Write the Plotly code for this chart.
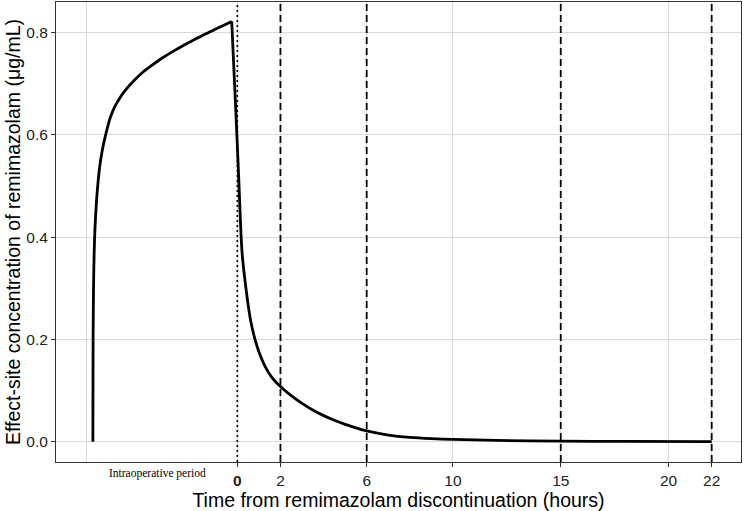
import plotly.graph_objects as go

# Effect-site concentration curve (hours relative to discontinuation, µg/mL)
# Infusion phase (rise) and post-discontinuation phase (decay) share the peak point.
rise_time = [-6.70, -6.69, -6.67, -6.64, -6.60, -6.52, -6.45, -6.37, -6.25, -6.09,
             -5.90, -5.70, -5.50, -5.20, -4.80, -4.40, -4.00, -3.50, -3.00, -2.50,
             -2.00, -1.50, -1.00, -0.60, -0.26]
rise_conc = [0.000, 0.200, 0.300, 0.370, 0.420, 0.478, 0.512, 0.542, 0.573, 0.603,
             0.633, 0.654, 0.669, 0.687, 0.706, 0.722, 0.735, 0.750, 0.763, 0.775,
             0.786, 0.797, 0.807, 0.815, 0.822]
decay_time = [-0.26, -0.10, 0.02, 0.10, 0.16, 0.22, 0.30, 0.40, 0.50, 0.62,
              0.82, 1.00, 1.28, 1.60, 2.00, 2.50, 3.00, 3.50, 4.00, 4.50,
              5.00, 5.50, 6.00, 7.00, 8.00, 9.00, 10.0, 12.0, 15.0, 18.0, 22.0]
decay_conc = [0.822, 0.675, 0.560, 0.478, 0.415, 0.370, 0.335, 0.300, 0.268, 0.236,
              0.200, 0.176, 0.148, 0.126, 0.108, 0.090, 0.075, 0.062, 0.051, 0.042,
              0.034, 0.027, 0.021, 0.013, 0.0085, 0.006, 0.0045, 0.0025, 0.001, 0.0005, 0.0002]

x_tick_vals = [0, 2, 6, 10, 15, 20, 22]
x_tick_text = ["<b>0</b>", "2", "6", "10", "15", "20", "22"]
x_extra_grid = [-7]
y_tick_vals = [0.0, 0.2, 0.4, 0.6, 0.8]
y_tick_text = ["0.0", "0.2", "0.4", "0.6", "0.8"]
dotted_line_at = [0]
dashed_lines_at = [2, 6, 15, 22]
period_label = "Intraoperative period"
period_label_x = -3.7

fig = go.Figure()
for xs, ys in [(rise_time, rise_conc), (decay_time, decay_conc)]:
    fig.add_trace(go.Scatter(x=xs, y=ys, mode="lines",
                             line=dict(color="black", width=2.8, shape="spline", smoothing=0.6),
                             showlegend=False, hoverinfo="skip"))

for xv in dotted_line_at:
    fig.add_shape(type="line", x0=xv, x1=xv, xref="x", y0=0, y1=1, yref="paper",
                  line=dict(color="black", width=1.6, dash="2px,3px"))
for xv in dashed_lines_at:
    fig.add_shape(type="line", x0=xv, x1=xv, xref="x", y0=0, y1=1, yref="paper",
                  line=dict(color="black", width=1.8, dash="7px,4px"))

fig.add_annotation(x=period_label_x, xref="x", y=0, yref="paper", yanchor="top",
                   yshift=-3, text=period_label, showarrow=False,
                   font=dict(family="Liberation Serif, Times New Roman, serif", size=11.5, color="black"))

grid_c = "#d9d9d9"
sans = "Liberation Sans, Arial, sans-serif"
fig.update_xaxes(range=[-8.41, 23.36], tickvals=x_tick_vals, ticktext=x_tick_text,
                 showgrid=True, gridcolor=grid_c, gridwidth=1.4, zeroline=False,
                 ticks="outside", ticklen=4, tickcolor="#333", tickwidth=1,
                 showline=True, linecolor="#333", linewidth=1, mirror=True,
                 tickfont=dict(family=sans, size=15.5, color="#222"),
                 minor=dict(tickvals=x_extra_grid, showgrid=True, gridcolor=grid_c,
                            gridwidth=1.4, ticks=""),
                 title=dict(text="Time from remimazolam discontinuation (hours)",
                            font=dict(family=sans, size=19.5, color="black"),
                            standoff=1))
fig.update_yaxes(range=[-0.0397, 0.860], tickvals=y_tick_vals, ticktext=y_tick_text,
                 showgrid=True, gridcolor=grid_c, gridwidth=1.4, zeroline=False,
                 ticks="outside", ticklen=4, tickcolor="#333", tickwidth=1,
                 showline=True, linecolor="#333", linewidth=1, mirror=True,
                 tickfont=dict(family=sans, size=15.5, color="#222"),
                 title=dict(text="Effect-site concentration of remimazolam (μg/mL)",
                            font=dict(family=sans, size=19.5, color="black"),
                            standoff=0))

fig.update_layout(width=744, height=511, margin=dict(l=56, r=3, t=2, b=49),
                  plot_bgcolor="white", paper_bgcolor="white")

fig.write_html("out.html")
